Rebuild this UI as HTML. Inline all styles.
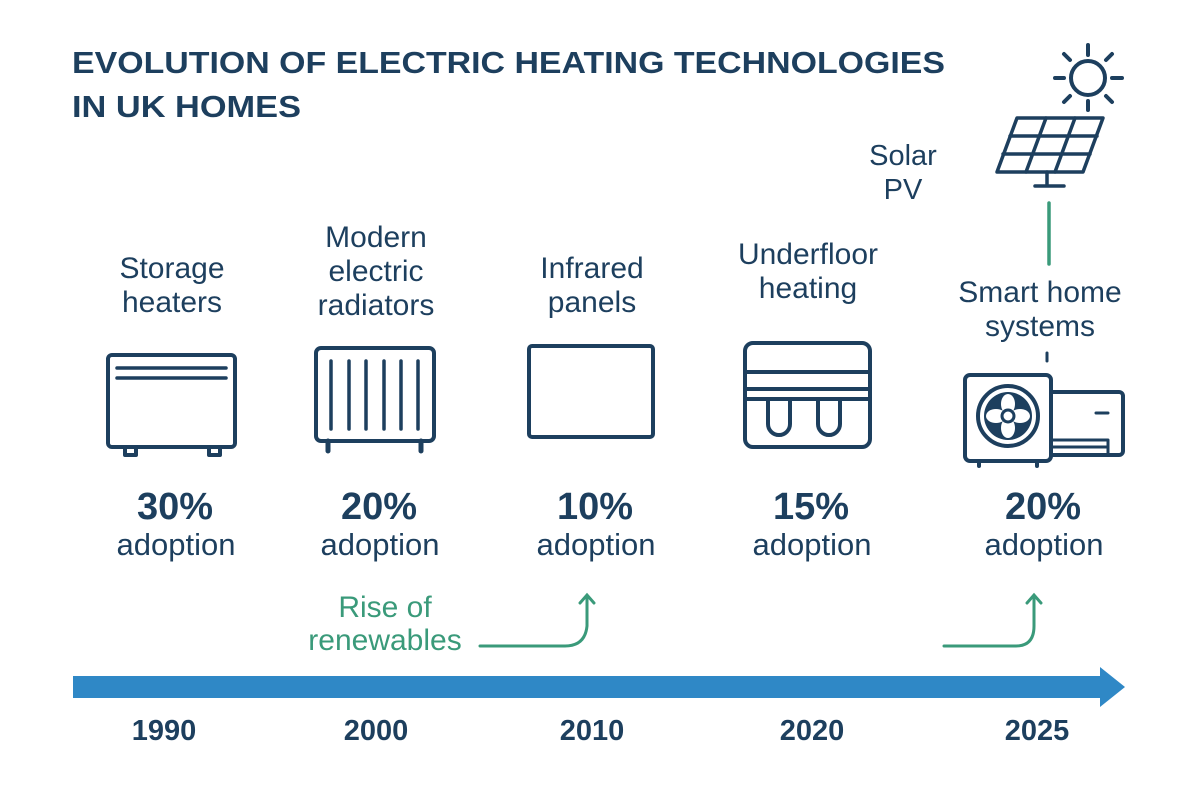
<!DOCTYPE html>
<html><head><meta charset="utf-8"><style>
html,body{margin:0;padding:0;background:#fff;}
svg{display:block;font-family:"Liberation Sans",sans-serif;}
</style></head><body>
<svg id="chart" width="1200" height="800" viewBox="0 0 1200 800" xmlns="http://www.w3.org/2000/svg">
<rect width="1200" height="800" fill="#fff"/>
<g fill="#1d3f5e" font-weight="bold" font-size="31">
<text x="72" y="73" textLength="873" lengthAdjust="spacingAndGlyphs">EVOLUTION OF ELECTRIC HEATING TECHNOLOGIES</text>
<text x="72" y="117" textLength="229" lengthAdjust="spacingAndGlyphs">IN UK HOMES</text>
</g>
<g fill="none" stroke="#1d3f5e" stroke-width="4" stroke-linecap="round" stroke-linejoin="round">
<g>
<rect x="108" y="355" width="127" height="92" rx="4"/>
<line x1="117" y1="368" x2="226" y2="368" stroke-width="3.5"/><line x1="117" y1="378" x2="226" y2="378" stroke-width="3.5"/>
<path d="M125 447v8h11v-8M209 447v8h11v-8"/>
</g>
<g>
<rect x="316" y="348" width="118" height="93" rx="5"/>
<path d="M331 361v68M349 361v68M366 361v68M384 361v68M401 361v68M418 361v68" stroke-width="3.5"/>
<path d="M328 441v10M421 441v10" stroke-width="5"/>
</g>
<g>
<rect x="529" y="346" width="124" height="91" rx="3"/>
</g>
<g>
<rect x="745" y="343" width="125" height="104" rx="8"/>
<path d="M745 372h125M745 389h125M745 399h125"/>
<path d="M768 399v25a11 11 0 0 0 22 0v-25M818 399v25a11 11 0 0 0 22 0v-25"/>
</g>
<g>
<rect x="965" y="375" width="86" height="86" rx="5"/>
<circle cx="1008" cy="416" r="30"/><circle cx="1008" cy="416" r="24" fill="#1d3f5e" stroke="none"/>
<g fill="#fff" stroke="none">
<ellipse cx="1008" cy="404" rx="7" ry="10"/>
<ellipse cx="1008" cy="404" rx="7" ry="10" transform="rotate(90 1008 416)"/>
<ellipse cx="1008" cy="404" rx="7" ry="10" transform="rotate(180 1008 416)"/>
<ellipse cx="1008" cy="404" rx="7" ry="10" transform="rotate(270 1008 416)"/>
</g>
<circle cx="1008" cy="416" r="6" fill="#fff" stroke="#1d3f5e" stroke-width="3"/>
<path d="M1051 392h68a4 4 0 0 1 4 4v55a4 4 0 0 1-4 4h-68" />
<path d="M1096 413h12M1051 440h57v15M1051 447h57" stroke-width="3"/>
<path d="M979 461v5M1037 461v5"/>
</g>
<g>
<circle cx="1088" cy="78" r="17"/>
<path d="M1088 45v10M1088 101v9M1055 78h9M1112 78h10M1064 54l6 6M1106 96l6 6M1112 54l-6 6M1070 96l-6 6"/>
</g>
<g stroke-width="3.5">
<path d="M1017 118h86l-20 54h-86z"/>
<path d="M1010 136h87M1003 154h87M1046 118l-20 54M1075 118l-20 54"/>
<path d="M1047 172v12M1035 186h29"/>
</g>
<line x1="1047" y1="353" x2="1047" y2="361" stroke-width="3"/>
</g>
<line x1="1049" y1="203" x2="1049" y2="264" stroke="#3a9a7a" stroke-width="3.5" stroke-linecap="round"/>
<text font-size="29" fill="#1d3f5e" text-anchor="middle"><tspan x="903" y="165">Solar</tspan><tspan x="903" y="199">PV</tspan></text>
<g>
<text font-size="30" fill="#3a9a7a" text-anchor="middle"><tspan x="385" y="617">Rise of</tspan><tspan x="385" y="650">renewables</tspan></text>
<path d="M480 646h85q20 0 22-20v-30M580 603l7-8 7 8" fill="none" stroke="#3a9a7a" stroke-width="3" stroke-linecap="round"/>
<path d="M944 646h72q18 0 18-20v-30M1027 603l7-8 7 8" fill="none" stroke="#3a9a7a" stroke-width="3" stroke-linecap="round"/>
</g>
<path d="M73 676h1027v-9l25 20-25 20v-9h-1027z" fill="#2f88c6"/>
<g id="items"></g>
</svg>
<script>
const years=["1990","2000","2010","2020","2025"];
const labels=[["Storage","heaters"],["Modern","electric","radiators"],["Infrared","panels"],["Underfloor","heating"],["Smart home","systems"]];
const adoption=[30,20,10,15,20];
const centers=[172,376,592,808,1040];
const yearCenters=[164,376,592,812,1037];
const labelTop=[278,247,278,264,302];
const NS="http://www.w3.org/2000/svg";
const g=document.getElementById('items');
function t(x,y,s,size,w,fill){const e=document.createElementNS(NS,'text');e.setAttribute('x',x);e.setAttribute('y',y);e.setAttribute('font-size',size);if(w)e.setAttribute('font-weight','bold');e.setAttribute('fill',fill);e.setAttribute('text-anchor','middle');e.textContent=s;g.appendChild(e);return e;}
years.forEach((yr,i)=>{
  const cx=centers[i];
  const y=t(yearCenters[i],740,yr,29,true,'#1d3f5e');
  
  
  labels[i].forEach((ln,j)=>{const l=t(cx,labelTop[i]+j*34,ln,30,false,'#1d3f5e');
    
    });
  const p=t(cx+3,519,adoption[i]+'%',38,true,'#1d3f5e');
  
  
  const a=t(cx+4,555,'adoption',31,false,'#1d3f5e');
  
  
});
</script>
</body></html>
